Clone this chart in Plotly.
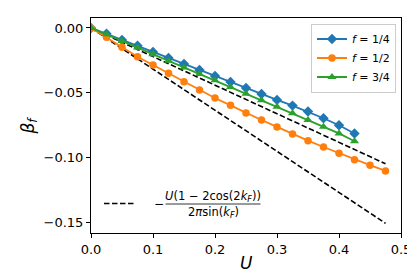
import plotly.graph_objects as go

# ---- data ----
U_short = [0.0, 0.025, 0.05, 0.075, 0.1, 0.125, 0.15, 0.175, 0.2, 0.225,
           0.25, 0.275, 0.3, 0.325, 0.35, 0.375, 0.4, 0.425]
U_long = [0.0, 0.025, 0.05, 0.075, 0.1, 0.125, 0.15, 0.175, 0.2, 0.225,
          0.25, 0.275, 0.3, 0.325, 0.35, 0.375, 0.4, 0.425, 0.45, 0.475]

beta_f14 = [0.0, -0.0044, -0.0093, -0.0138, -0.0185, -0.0232, -0.0278, -0.0325,
            -0.0371, -0.0417, -0.0464, -0.0510, -0.0556, -0.0600, -0.0646,
            -0.0698, -0.0752, -0.0816]
beta_f12 = [0.0, -0.0072, -0.0149, -0.0222, -0.0286, -0.0350, -0.0415, -0.0479,
            -0.0541, -0.0598, -0.0657, -0.0711, -0.0765, -0.0819, -0.0871,
            -0.0920, -0.0969, -0.1018, -0.1061, -0.1105]
beta_f34 = [0.0, -0.0048, -0.0100, -0.0152, -0.0203, -0.0254, -0.0305, -0.0355,
            -0.0405, -0.0456, -0.0508, -0.0559, -0.0609, -0.0660, -0.0711,
            -0.0763, -0.0815, -0.0876]

U_dash = [0.0, 0.475]
dash_upper = [0.0, -0.105]
dash_lower = [0.0, -0.151]

labels = ["<i>f</i> = 1/4", "<i>f</i> = 1/2", "<i>f</i> = 3/4"]
x_ticks = [0.0, 0.1, 0.2, 0.3, 0.4, 0.5]
y_ticks = [0.0, -0.05, -0.10, -0.15]

FONT = "DejaVu Sans"
BLUE, ORANGE, GREEN = "#1f77b4", "#ff7f0e", "#2ca02c"
DASH = "5.5px,2.5px"

fig = go.Figure()

# dashed analytic lines (drawn first, under data)
fig.add_trace(go.Scatter(x=U_dash, y=dash_upper, mode="lines",
                         line=dict(color="black", width=1.6, dash=DASH),
                         name=" ", legend="legend2", showlegend=True))
fig.add_trace(go.Scatter(x=U_dash, y=dash_lower, mode="lines",
                         line=dict(color="black", width=1.6, dash=DASH),
                         showlegend=False))

fig.add_trace(go.Scatter(x=U_short, y=beta_f14, mode="lines+markers", name=labels[0],
                         line=dict(color=BLUE, width=1.8),
                         marker=dict(symbol="diamond", size=8, color=BLUE)))
fig.add_trace(go.Scatter(x=U_long, y=beta_f12, mode="lines+markers", name=labels[1],
                         line=dict(color=ORANGE, width=1.8),
                         marker=dict(symbol="circle", size=7.5, color=ORANGE)))
fig.add_trace(go.Scatter(x=U_short, y=beta_f34, mode="lines+markers", name=labels[2],
                         line=dict(color=GREEN, width=1.8),
                         marker=dict(symbol="triangle-up", size=8, color=GREEN)))

# plot-area geometry (px) used to position the text elements
L, R, T, B = 83, 22, 10, 52
W, H = 415, 277
pw, ph = W - L - R, H - T - B


def px_x(px):
    return (px - L) / pw


def px_y(py):
    return 1 - (py - T) / ph


ann_font = dict(family=FONT, size=11.5, color="black")
fig.add_annotation(xref="paper", yref="paper", x=px_x(151), y=px_y(195.5),
                   text="−", showarrow=False, font=dict(family=FONT, size=12, color="black"),
                   xanchor="center", yanchor="middle")
fig.add_annotation(xref="paper", yref="paper", x=px_x(205), y=px_y(188.5),
                   text="<i>U</i>(1 − 2cos(2<i>k</i><sub><i>F</i></sub>))", showarrow=False,
                   font=ann_font, xanchor="center", yanchor="middle")
fig.add_annotation(xref="paper", yref="paper", x=px_x(205), y=px_y(204),
                   text="2<i>π</i>sin(<i>k</i><sub><i>F</i></sub>)", showarrow=False,
                   font=ann_font, xanchor="center", yanchor="middle")
fig.add_shape(type="line", xref="paper", yref="paper",
              x0=px_x(157.5), x1=px_x(252.5), y0=px_y(196), y1=px_y(196),
              line=dict(color="black", width=0.8))

# axis titles
fig.add_annotation(xref="paper", yref="paper", x=px_x(238), y=px_y(255),
                   text="<i>U</i>", showarrow=False,
                   font=dict(family=FONT, size=17, color="black"),
                   xanchor="center", yanchor="middle")
fig.add_annotation(xref="paper", yref="paper", x=px_x(21), y=px_y(117.5),
                   text="<i>β</i><sub><i>f</i></sub>", showarrow=False, textangle=-90,
                   font=dict(family=FONT, size=17, color="black"),
                   xanchor="center", yanchor="middle")

fig.update_layout(
    width=W, height=H,
    margin=dict(l=L, r=R, t=T, b=B),
    paper_bgcolor="white", plot_bgcolor="white",
    font=dict(family=FONT, size=13, color="black"),
    legend=dict(x=px_x(388), y=px_y(15.5), xanchor="right", yanchor="top",
                bgcolor="rgba(255,255,255,0.8)", bordercolor="#cccccc", borderwidth=1,
                font=dict(family=FONT, size=11, color="black"),
                itemwidth=30, tracegroupgap=0),
    legend2=dict(x=px_x(91), y=px_y(195.5), xanchor="left", yanchor="middle",
                 bgcolor="rgba(0,0,0,0)", borderwidth=0,
                 font=dict(family=FONT, size=11, color="black")),
    showlegend=True,
)

fig.update_xaxes(range=[0, 0.5], tickvals=x_ticks, tickformat=".1f",
                 showgrid=False, zeroline=False,
                 showline=True, mirror=True, linecolor="black", linewidth=1,
                 ticks="outside", ticklen=4, tickwidth=1, tickcolor="black",
                 tickfont=dict(family=FONT, size=13))
fig.update_yaxes(range=[-0.1585, 0.0077], tickvals=y_ticks, tickformat=".2f",
                 showgrid=False, zeroline=False,
                 showline=True, mirror=True, linecolor="black", linewidth=1,
                 ticks="outside", ticklen=4, tickwidth=1, tickcolor="black",
                 tickfont=dict(family=FONT, size=13))

fig.write_html("out.html")
